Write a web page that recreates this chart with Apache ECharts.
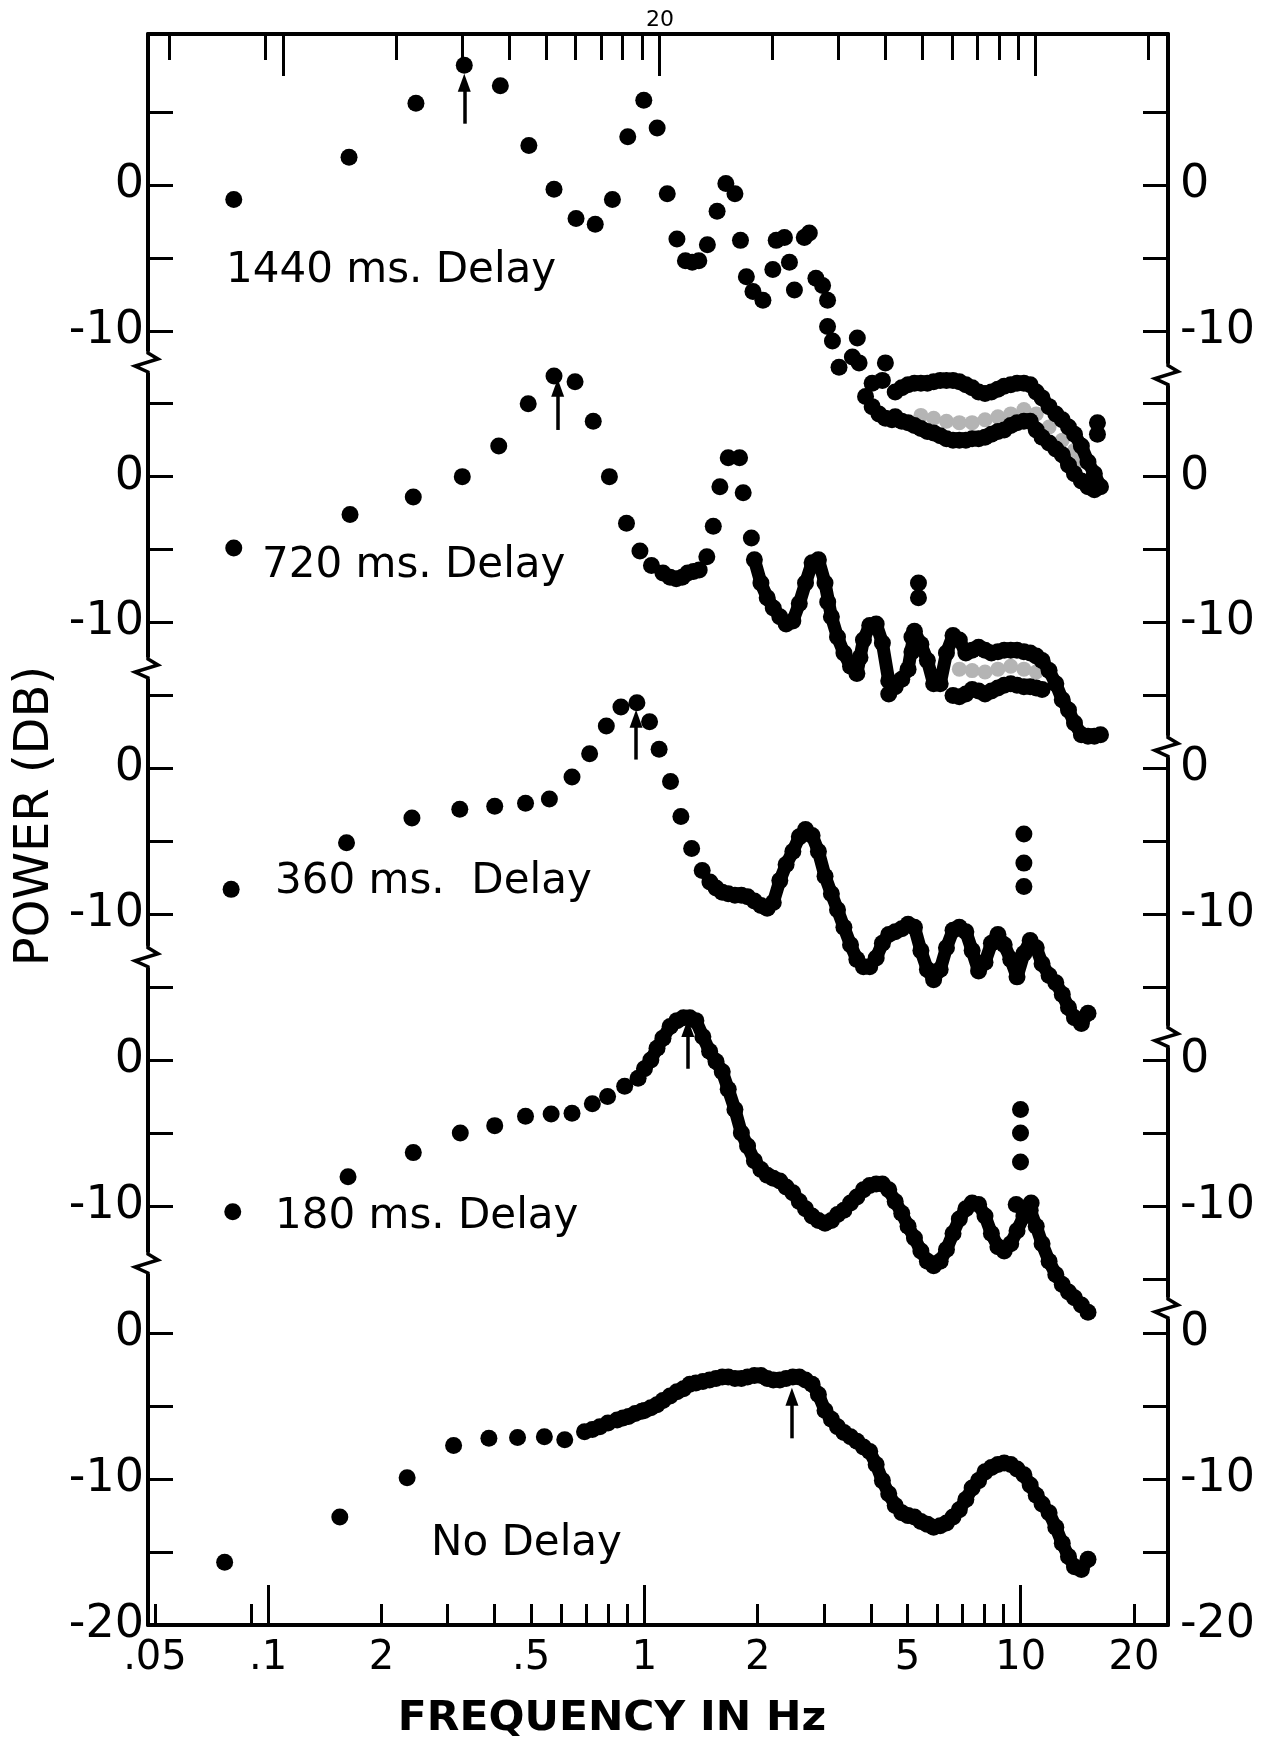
<!DOCTYPE html>
<html><head><meta charset="utf-8">
<script src="https://cdn.jsdelivr.net/npm/echarts@6/dist/echarts.min.js"></script>
<style>html,body{margin:0;padding:0;background:#fff;}#c{width:1279px;height:1741px;}</style>
</head><body><div id="c"></div>
<script>
const N = null;
// shared frequency grid (Hz) used to read the dense parts of every spectrum
const denseFreq = [1.00,1.04,1.08,1.12,1.17,1.22,1.27,1.32,1.37,1.43,1.49,1.55,1.61,1.67,1.74,1.81,1.88,1.96,2.04,2.12,
  2.20,2.29,2.38,2.48,2.58,2.68,2.79,2.90,3.02,3.14,3.26,3.39,3.53,3.67,3.82,3.97,4.13,4.29,4.46,4.64,
  4.83,5.02,5.22,5.43,5.65,5.87,6.11,6.35,6.61,6.87,7.15,7.43,7.73,8.04,8.36,8.70,9.04,9.41,9.78,10.2,
  10.6,11.0,11.4,11.9,12.4,12.9,13.4,13.9,14.5,15.1,15.7,16.3];

// ---- No Delay ----
const ndFreq = [0.0766,0.155,0.234,0.311,0.386,0.460,0.542,0.614,0.693,0.727,0.761,0.800,0.846,0.877,0.907,0.945,0.984];
const ndDb   = [-15.7,-12.6,-9.9,-7.7,-7.2,-7.15,-7.1,-7.3,-6.75,-6.6,-6.4,-6.15,-5.95,-5.8,-5.7,-5.5,-5.35];
const ndDense = [-5.3,-5.1,-4.9,-4.6,-4.3,-4.0,-3.8,-3.5,-3.4,-3.3,
  -3.2,-3.1,-3.0,-3.0,-3.1,-3.1,-3.0,-2.9,-2.9,-3.1,
  -3.2,-3.2,-3.1,-3.0,-3.0,-3.2,-3.5,-4.2,-5.3,-5.9,
  -6.4,-6.8,-7.1,-7.4,-7.8,-8.1,-9.0,-10.1,-11.0,-11.8,
  -12.3,-12.5,-12.6,-12.9,-13.1,-13.3,-13.2,-13.0,-12.6,-12.1,
  -11.4,-10.6,-10.1,-9.5,-9.2,-9.0,-8.9,-9.0,-9.3,-9.7,
  -10.4,-11.1,-11.7,-12.3,-13.3,-14.4,-15.3,-16.0,-16.2,-15.5,
  N,N];

// ---- 180 ms ----
const d180Freq = [0.0805,0.163,0.243,0.324,0.400,0.483,0.565,0.642,0.727,0.798,0.886,0.962,9.73,10.66,9.99,9.99,9.99];
const d180Db   = [-10.4,-8.0,-6.35,-5.0,-4.5,-3.85,-3.7,-3.65,-3.0,-2.5,-1.8,-1.25,-9.9,-9.8,-3.4,-5.0,-7.0];
const d180Dense = [-0.6,0.0,0.8,1.5,2.3,2.7,2.9,2.9,2.7,1.6,
  0.6,-0.1,-0.8,-2.0,-3.4,-5.0,-5.9,-6.9,-7.5,-7.9,
  -8.1,-8.3,-8.7,-9.1,-9.7,-10.2,-10.7,-11.0,-11.2,-11.0,
  -10.6,-10.3,-9.8,-9.4,-8.9,-8.6,-8.5,-8.5,-8.9,-9.7,
  -10.5,-11.4,-12.2,-13.1,-13.8,-14.1,-13.8,-13.0,-11.9,-10.9,
  -10.2,-9.8,-9.9,-10.7,-11.9,-12.8,-13.1,-12.6,-11.7,-10.7,
  -10.3,-11.4,-12.6,-13.8,-14.7,-15.4,-15.9,-16.3,-16.8,-17.3,
  N,N];

// ---- 360 ms ----
const d360Freq = [0.0797,0.1615,0.241,0.323,0.400,0.483,0.559,0.642,0.715,0.792,0.866,0.955,1.032,1.094,1.173,1.250,1.335,1.424,1.493,10.2,10.2,10.2];
const d360Db   = [-8.3,-5.1,-3.4,-2.8,-2.6,-2.4,-2.1,-0.6,1.0,2.9,4.2,4.5,3.2,1.3,-0.9,-3.3,-5.5,-7.0,-7.8,-4.5,-6.5,-8.1];
const d360Dense = [N,N,N,N,N,N,N,N,N,N,
  N,-8.2,-8.5,-8.6,-8.7,-8.7,-8.8,-9.1,-9.4,-9.6,
  -9.2,-7.7,-6.6,-5.7,-4.7,-4.2,-4.6,-5.7,-7.4,-8.6,
  -9.7,-10.9,-12.1,-13.1,-13.6,-13.6,-13.0,-12.0,-11.4,-11.2,
  -11.0,-10.7,-10.9,-12.5,-13.8,-14.5,-13.8,-12.3,-11.1,-10.9,
  -11.2,-12.5,-13.9,-13.3,-12.0,-11.4,-12.1,-13.1,-14.3,-12.7,
  -11.8,-12.3,-13.4,-14.2,-14.7,-15.5,-16.4,-17.1,-17.5,-16.8,
  N,N];

// ---- 720 ms ----
const d720Freq = [0.081,0.165,0.243,0.328,0.410,0.491,0.575,0.654,0.731,0.807,0.896,0.973,1.044,1.120,1.170,1.215,1.260,1.303,1.350,1.398,1.465,1.524,1.587,1.670,1.790,1.830,1.924,3.070,3.740,4.460,5.140,5.140,5.350,5.350];
const d720Db   = [-4.9,-2.6,-1.4,0.0,2.1,5.0,6.9,6.5,3.8,0.0,-3.2,-5.1,-6.1,-6.6,-6.9,-7.0,-6.9,-6.6,-6.5,-6.4,-5.5,-3.4,-0.7,1.3,1.3,-1.1,-4.2,-8.6,-12.4,-14.9,-12.0,-11.0,-7.3,-8.3];
const d720Dense = [N,N,N,N,N,N,N,N,N,N,
  N,N,N,N,N,N,N,-5.7,-7.3,-8.3,
  -9.0,-9.6,-10.1,-9.9,-8.7,-7.3,-5.9,-5.7,-7.3,-9.6,
  -11.0,-12.1,-13.0,-13.5,-11.2,-10.2,-10.1,-11.4,-14.0,-14.4,
  -13.9,-13.2,-10.6,-11.5,-12.6,-14.2,-14.2,-12.1,-10.9,-11.2,
  -12.1,-11.9,-11.7,-11.9,-12.1,-12.0,-11.9,-11.9,-11.9,-12.0,
  -12.1,-12.3,-12.6,-13.3,-14.2,-15.3,-16.0,-16.9,-17.7,-17.8,
  -17.8,-17.7];
const d720DenseLow = [N,N,N,N,N,N,N,N,N,N,
  N,N,N,N,N,N,N,N,N,N,
  N,N,N,N,N,N,N,N,N,N,
  N,N,N,N,N,N,N,N,N,N,
  N,N,N,N,N,N,N,N,-15.0,-15.1,
  -14.9,-14.6,-14.7,-14.9,-14.7,-14.5,-14.3,-14.2,-14.3,-14.4,
  -14.4,-14.5,-14.6,N,N,N,N,N,N,N,
  N,N];
// grey (faint) dots between the two branches
const d720GreyFreq = [6.87,7.43,8.04,8.70,9.41,10.2,11.0];
const d720GreyDb   = [-13.2,-13.3,-13.4,-13.2,-13.0,-13.2,-13.4];

// ---- 1440 ms ----
const d1440Freq = [0.081,0.164,0.247,0.332,0.414,0.493,0.575,0.658,0.740,0.822,0.903,0.996,1.081,1.150,1.220,1.285,1.340,1.395,1.470,1.560,1.646,1.740,1.800,1.866,1.943,2.065,2.194,2.240,2.356,2.429,2.504,2.660,2.743,2.856,2.975,3.067,3.067,3.160,3.290,3.570,3.680,3.720,3.870,4.030,4.030,4.200,4.290,4.370,4.370,4.550,16.0,16.0];
const d1440Db   = [-1.0,1.9,5.6,8.2,6.8,2.7,-0.3,-2.3,-2.7,-1.0,3.3,5.8,3.9,-0.6,-3.7,-5.2,-5.3,-5.2,-4.1,-1.8,0.1,-0.6,-3.8,-6.3,-7.3,-7.9,-5.8,-3.8,-3.6,-5.3,-7.2,-3.6,-3.3,-6.4,-6.9,-7.9,-9.7,-10.7,-12.5,-11.8,-10.5,-12.2,-14.5,-13.6,-15.2,-15.7,-13.4,-16.0,-12.2,-16.1,-16.3,-17.1];
const d1440Dense = [N,N,N,N,N,N,N,N,N,N,
  N,N,N,N,N,N,N,N,N,N,
  N,N,N,N,N,N,N,N,N,N,
  N,N,N,N,N,N,N,N,N,-14.2,
  -13.9,-13.7,-13.6,-13.6,-13.6,-13.5,-13.4,-13.4,-13.4,-13.5,
  -13.7,-13.9,-14.2,-14.3,-14.2,-14.0,-13.8,-13.7,-13.6,-13.6,
  -13.7,-14.2,-14.6,-15.2,-15.7,-16.1,-16.6,-17.1,-17.9,-19.0,
  -19.8,-20.7];
const d1440DenseLow = [N,N,N,N,N,N,N,N,N,N,
  N,N,N,N,N,N,N,N,N,N,
  N,N,N,N,N,N,N,N,N,N,
  N,N,N,N,N,N,N,N,N,-15.9,
  -16.2,-16.3,-16.5,-16.7,-16.9,-17.0,-17.2,-17.4,-17.5,-17.5,
  -17.5,-17.4,-17.4,-17.3,-17.1,-16.9,-16.8,-16.5,-16.3,-16.2,
  -16.2,-16.8,-17.3,-17.7,-18.1,-18.5,-19.2,-19.8,-20.3,-20.7,
  -20.9,N];
const d1440GreyFreq = [5.43,5.87,6.35,6.87,7.43,8.04,8.70,9.41,10.2,11.0,11.9,12.9,13.9,14.5];
const d1440GreyDb   = [-15.8,-16.0,-16.2,-16.3,-16.3,-16.1,-15.9,-15.7,-15.4,-15.7,-16.6,-17.5,-18.2,-18.9];

// arrows marking the peaks (Hz, dB from, dB to) in order 1440,720,360,180,No Delay
const arrowFreq   = [0.332, 0.588, 0.95, 1.304, 2.466];
const arrowFromDb = [4.2, 3.2, 0.6, -0.6, -7.2];
const arrowToDb   = [7.0, 6.1, 3.4, 2.2, -4.35];

const panelNames = ['1440 ms. Delay','720 ms. Delay','360 ms.  Delay','180 ms. Delay','No Delay'];

// axis ticks / labels
const xLabelValues = [0.05,0.1,0.2,0.5,1,2,5,10,20];
const xLabelTexts  = ['.05','.1','2','.5','1','2','5','10','20'];
const xMinorTicks  = [0.05,0.09,0.2,0.3,0.4,0.5,0.6,0.7,0.8,0.9,2,3,4,5,6,7,8,9,20];
const xMajorTicks  = [0.1,1,10];
const upperTickDb  = [5,0,-5,-10];
const ndTickDb     = [0,-5,-10,-15,-20];
const upperLabelDb = [0,-10];
const ndLabelDb    = [0,-10,-20];

// ---------- layout constants ----------
const OFF = [60, 40, 20, 0, -18.74];          // vertical offset (dB) of each panel: 1440,720,360,180,ND
const X_MIN = -1.3195, X_MAX = 1.3916, TOP_SHIFT = 0.039;
const Y_MIN = -20 + OFF[4], Y_MAX = 70.35;
const FONT = '"DejaVu Sans", sans-serif';
const leftBreaks  = [47.86, 26.88, 7.08, -13.92];
const rightBreaks = [47.0, 21.5, 1.6, -17.0];

function pts(freqs, dbs, off) {
  const out = [];
  for (let i = 0; i < freqs.length; i++) {
    if (dbs[i] !== null && dbs[i] !== undefined) out.push([Math.log10(freqs[i]), dbs[i] + off]);
  }
  return out;
}
const denseSets = [
  [d1440Dense, OFF[0]], [d1440DenseLow, OFF[0]],
  [d720Dense, OFF[1]], [d720DenseLow, OFF[1]],
  [d360Dense, OFF[2]], [d180Dense, OFF[3]], [ndDense, OFF[4]]
];
const panelData = [
  pts(d1440Freq, d1440Db, OFF[0]).concat(pts(denseFreq, d1440Dense, OFF[0]), pts(denseFreq, d1440DenseLow, OFF[0])),
  pts(d720Freq, d720Db, OFF[1]).concat(pts(denseFreq, d720Dense, OFF[1]), pts(denseFreq, d720DenseLow, OFF[1])),
  pts(d360Freq, d360Db, OFF[2]).concat(pts(denseFreq, d360Dense, OFF[2])),
  pts(d180Freq, d180Db, OFF[3]).concat(pts(denseFreq, d180Dense, OFF[3])),
  pts(ndFreq, ndDb, OFF[4]).concat(pts(denseFreq, ndDense, OFF[4]))
];
const greyData = pts(d1440GreyFreq, d1440GreyDb, OFF[0]).concat(pts(d720GreyFreq, d720GreyDb, OFF[1]));

const yTicks = [];
const yLabels = [];
for (let p = 0; p < 4; p++) {
  upperTickDb.forEach(d => yTicks.push(d + OFF[p]));
  upperLabelDb.forEach(d => yLabels.push({g: d + OFF[p], t: String(d)}));
}
ndTickDb.forEach(d => yTicks.push(d + OFF[4]));
ndLabelDb.forEach(d => yLabels.push({g: d + OFF[4], t: String(d)}));
const yTicksRight = yTicks.concat([-15 + OFF[3]]);

function yFmt(v) {
  const k = Math.round(v * 100);
  const f = yLabels.find(o => Math.round(o.g * 100) === k);
  return f ? f.t : '';
}
function xFmt(v) {
  const k = Math.round(v * 1000);
  const i = xLabelValues.findIndex(x => Math.round(Math.log10(x) * 1000) === k);
  return i >= 0 ? xLabelTexts[i] : '';
}

function xAxisDef(pos, min, max, ticks, len, showLine) {
  return {
    type: 'value', gridIndex: 0, position: pos, min: min, max: max,
    axisLine: {show: showLine, onZero: false, lineStyle: {color: '#000', width: 4}},
    axisTick: {show: true, inside: true, length: len, customValues: ticks.map(Math.log10), lineStyle: {color: '#000', width: 3}},
    axisLabel: {show: false}, splitLine: {show: false}, minorTick: {show: false}
  };
}
const xBottom = xAxisDef('bottom', X_MIN, X_MAX, xMinorTicks, 21, true);
xBottom.axisLabel = {show: true, customValues: xLabelValues.map(Math.log10), formatter: xFmt,
  fontSize: 40, fontFamily: FONT, color: '#000', margin: 14};

function yAxisDef(pos, ticks, margin) {
  return {
    type: 'value', gridIndex: 0, position: pos, min: Y_MIN, max: Y_MAX,
    axisLine: {show: true, onZero: false, lineStyle: {color: '#000', width: 4}},
    axisTick: {show: true, inside: true, length: 25, customValues: ticks, lineStyle: {color: '#000', width: 3}},
    axisLabel: {show: true, customValues: yLabels.map(o => o.g), formatter: yFmt, fontSize: 46,
      fontFamily: FONT, color: '#000', margin: margin, lineHeight: 30},
    splitLine: {show: false}
  };
}

// thick band under the dense dot runs (same values, drawn as a heavy line so the runs read as solid)
const bandSeries = denseSets.map(([arr, off]) => ({
  type: 'line', xAxisIndex: 0, yAxisIndex: 0, silent: true, z: 2,
  showSymbol: false, symbol: 'none', smooth: false, connectNulls: false,
  lineStyle: {color: '#000', width: 13, cap: 'round', join: 'round'},
  data: pts(denseFreq, arr, off)
}));

const series = [{
  type: 'scatter', name: 'grey', xAxisIndex: 0, yAxisIndex: 0, symbol: 'circle', symbolSize: 15,
  itemStyle: {color: '#b4b4b4', opacity: 1}, silent: true, data: greyData, z: 1
}].concat(bandSeries, panelData.map((data, p) => ({
  type: 'scatter', name: panelNames[p], xAxisIndex: 0, yAxisIndex: 0,
  symbol: 'circle', symbolSize: 17, itemStyle: {color: '#000', opacity: 1}, silent: true, z: 3,
  data: data,
  markLine: {
    silent: true, animation: false, symbol: ['none', 'triangle'], symbolSize: [13, 18],
    label: {show: false}, lineStyle: {color: '#000', width: 3.5, type: 'solid', opacity: 1},
    data: [[{coord: [Math.log10(arrowFreq[p]), arrowFromDb[p] + OFF[p]]},
            {coord: [Math.log10(arrowFreq[p]), arrowToDb[p] + OFF[p]]}]]
  }
})));

const chart = echarts.init(document.getElementById('c'), null, {width: 1279, height: 1741});
chart.setOption({
  backgroundColor: '#fff',
  animation: false,
  grid: {left: 148, right: 111, top: 34, bottom: 116, outerBoundsMode: 'none', containLabel: false},
  xAxis: [
    xBottom,
    xAxisDef('bottom', X_MIN, X_MAX, xMajorTicks, 40, false),
    xAxisDef('top', X_MIN - TOP_SHIFT, X_MAX - TOP_SHIFT, xMinorTicks, 26, true),
    xAxisDef('top', X_MIN - TOP_SHIFT, X_MAX - TOP_SHIFT, xMajorTicks, 42, false)
  ],
  yAxis: [yAxisDef('left', yTicks, 4), yAxisDef('right', yTicksRight, 12)],
  series: series
});

// decorations: labels, titles and axis-break marks
const gx0 = chart.convertToPixel({xAxisIndex: 0}, X_MIN);
const gx1 = chart.convertToPixel({xAxisIndex: 0}, X_MAX);
function breakMark(x, y) {
  return [
    {type: 'rect', z: 100, shape: {x: x - 4, y: y - 11, width: 8, height: 22}, style: {fill: '#fff'}},
    {type: 'polyline', z: 101, shape: {points: [[x, y - 14], [x, y - 9], [x + 10, y - 3], [x - 13, y + 4], [x, y + 10], [x, y + 14]]},
      style: {stroke: '#000', lineWidth: 3.5, fill: null}}
  ];
}
function txt(text, x, y, size, align, extra) {
  return Object.assign({type: 'text', x: x, y: y, z: 102,
    style: {text: text, fill: '#000', fontSize: size, fontFamily: 'DejaVu Sans', align: align, textAlign: align,
      verticalAlign: 'middle', textVerticalAlign: 'middle'}}, extra || {});
}
const labelPos = [[226, 271], [262, 566], [275, 882], [275, 1217], [431, 1544]];
let elements = [];
panelNames.forEach((n, i) => elements.push(txt(n, labelPos[i][0], labelPos[i][1], 42, 'left')));
elements.push(txt('POWER (DB)', 36, 816, 48, 'center', {rotation: Math.PI / 2}));
const xt = txt('FREQUENCY IN Hz', 612, 1720, 40, 'center', {scaleX: 1.06});
xt.style.fontWeight = 'bold';
elements.push(xt);
elements.push(txt('20', 660, 20, 22, 'center'));
leftBreaks.forEach(g => { elements = elements.concat(breakMark(gx0, chart.convertToPixel({yAxisIndex: 0}, g))); });
rightBreaks.forEach(g => { elements = elements.concat(breakMark(gx1, chart.convertToPixel({yAxisIndex: 0}, g))); });
chart.setOption({graphic: {elements: elements}});
</script></body></html>
